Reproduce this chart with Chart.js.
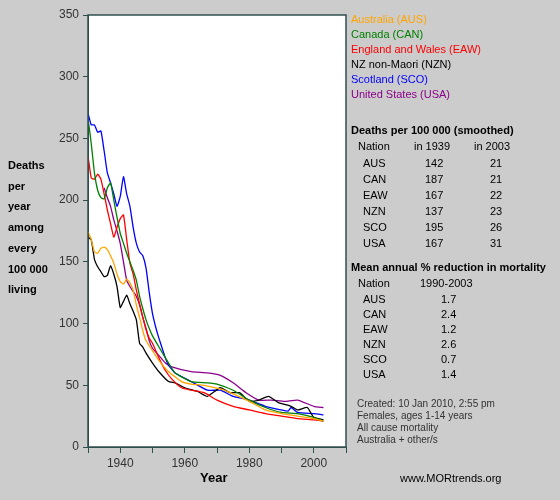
<!DOCTYPE html>
<html><head><meta charset="utf-8">
<script src="https://cdn.jsdelivr.net/npm/chart.js@4"></script>
<style>
body{margin:0;background:#cccccc;font-family:"Liberation Sans",Arial,sans-serif;}
#wrap{position:relative;width:560px;height:500px;}
canvas{position:absolute;left:0;top:0;}
.t{position:absolute;font-size:11px;white-space:nowrap;line-height:13px;}
.b{font-weight:bold;}
.s{font-size:10px;color:#333;}
</style></head><body>
<div id="wrap"><canvas id="c" width="560" height="500"></canvas><div id="txt"></div></div>
<script>
const yearsAUS=[1929,1930,1931,1932,1933,1934,1935,1936,1937,1938,1939,1940,1941,1942,1943,1944,1945,1946,1947,1948,1949,1950,1952,1955,1959,1962,1966,1971,1975,1980,1985,1990,1995,2000,2003];
const valsAUS=[175,174,168,158,157,161,162,160,155,149,140,134,132,136,133,127,115,105,94,86,82,78,70,61,53,51,50,47,43,37,30,27,25,23,21];
const yearsCAN=[1929,1930,1931,1932,1933,1934,1935,1936,1937,1938,1939,1940,1941,1942,1943,1944,1945,1946,1947,1948,1949,1950,1952,1955,1957,1962,1967,1970,1975,1980,1985,1990,1995,2000,2003];
const valsCAN=[268,265,246,222,208,202,201,210,214,200,186,173,165,157,150,143,135,122,112,103,96,90,81,68,60,53,52,51,46,38,32,28,27,24,21];
const yearsEAW=[1929,1930,1931,1932,1933,1934,1935,1936,1937,1938,1939,1940,1941,1942,1943,1944,1945,1946,1947,1948,1949,1950,1952,1954,1956,1959,1962,1966,1970,1975,1980,1985,1990,1995,2000,2003];
const valsEAW=[238,235,218,217,221,217,205,192,181,170,178,185,188,168,149,140,127,116,105,95,88,84,72,62,55,48,46,44,38,33,30,27,25,23,22,21];
const yearsNZN=[1929,1930,1931,1932,1933,1934,1935,1936,1937,1938,1939,1940,1941,1942,1943,1944,1945,1946,1947,1948,1950,1952,1955,1957,1960,1964,1967,1971,1974,1977,1980,1983,1986,1989,1993,1995,1998,2000,2003];
const valsNZN=[172,170,168,152,146,142,138,139,147,140,130,113,118,123,116,110,103,84,81,76,68,61,53,52,48,45,41,48,44,44,37,38,41,36,33,30,32,24,22];
const yearsSCO=[1929,1930,1931,1932,1933,1934,1935,1936,1937,1938,1939,1940,1941,1942,1943,1944,1945,1946,1947,1948,1949,1950,1951,1952,1953,1954,1955,1956,1957,1962,1967,1971,1975,1980,1985,1990,1992,1993,1995,2000,2003];
const valsSCO=[272,270,261,261,255,256,240,222,214,205,195,203,219,205,195,178,165,158,155,145,125,108,97,88,80,72,66,63,60,53,46,46,41,38,33,30,29,32,28,27,26];
const yearsUSA=[1935,1936,1937,1938,1939,1940,1941,1942,1943,1944,1945,1946,1947,1948,1949,1950,1952,1954,1956,1962,1967,1971,1975,1979,1983,1987,1991,1995,2000,2003];
const valsUSA=[210,202,195,184,175,165,150,135,130,126,122,115,105,96,86,80,74,68,65,61,60,58,52,44,38,38,37,38,33,32];
const nations=["AUS","CAN","EAW","NZN","SCO","USA"];
const names=["Australia (AUS)","Canada (CAN)","England and Wales (EAW)","NZ non-Maori (NZN)","Scotland (SCO)","United States (USA)"];
const colors=["#ffa500","#008000","#ff0000","#000000","#0000ff","#8b008b"];
const d1939=[142,187,167,137,195,167];
const d2003=[21,21,22,23,26,31];
const reduction=["1.7","2.4","1.2","2.6","0.7","1.4"];
const xTicks=[1930,1940,1950,1960,1970,1980,1990,2000,2010];
const yTicks=[0,50,100,150,200,250,300,350];

const series=[[yearsAUS,valsAUS],[yearsCAN,valsCAN],[yearsEAW,valsEAW],[yearsNZN,valsNZN],[yearsSCO,valsSCO],[yearsUSA,valsUSA]];
const frame={id:'frame',afterDatasetsDraw(c){const a=c.chartArea,x=c.ctx;x.save();x.strokeStyle='#2f4f4f';x.lineWidth=1.5;x.strokeRect(a.left,a.top,a.right-a.left,a.bottom-a.top);x.restore();},
 beforeDraw(c){const a=c.chartArea,x=c.ctx;x.save();x.fillStyle='#fff';x.fillRect(a.left,a.top,a.right-a.left,a.bottom-a.top);x.restore();}};
new Chart(document.getElementById('c'),{type:'line',
 data:{datasets:series.map((s,i)=>({label:nations[i],data:s[0].map((y,j)=>({x:y,y:s[1][j]})),borderColor:colors[i],borderWidth:1.3,pointRadius:0,tension:0.15,fill:false}))},
 options:{responsive:false,animation:false,layout:{padding:{left:0,right:214,top:15,bottom:0}},
  plugins:{legend:{display:false},tooltip:{enabled:false}},
  scales:{
   x:{type:'linear',min:1930,max:2010,afterFit(s){s.height=53;},afterBuildTicks(s){s.ticks=xTicks.map(v=>({value:v}));},
      grid:{drawOnChartArea:false,tickLength:6,color:'#2f4f4f'},border:{color:'#2f4f4f'},
      ticks:{autoSkip:false,maxRotation:0,color:'#333',font:{family:'Liberation Sans',size:12},callback:v=>(v%20===0&&v>1930&&v<2010)?String(v):''}},
   y:{min:0,max:350,afterFit(s){s.width=88;},afterBuildTicks(s){s.ticks=yTicks.map(v=>({value:v}));},
      grid:{drawOnChartArea:false,tickLength:5,color:'#2f4f4f'},border:{color:'#2f4f4f'},
      ticks:{color:'#333',font:{family:'Liberation Sans',size:12},padding:4}}}},
 plugins:[frame]});

let h='';
const add=(x,y,t,cls,col)=>{h+=`<div class="t ${cls||''}" style="left:${x}px;top:${y}px;${col?'color:'+col:''}">${t}</div>`;};
const yl=["Deaths","per","year","among","every","100 000","living"];
yl.forEach((t,i)=>add(8,159+i*20.7,t,'b'));
h+=`<div class="t b" style="left:200px;top:471px;font-size:13px">Year</div>`;
add(400,472,"www.MORtrends.org");
names.forEach((n,i)=>add(351,13+i*15,n,'',colors[i]));
add(351,124,"Deaths per 100 000 (smoothed)",'b');
add(358,140,"Nation");add(414,140,"in 1939");add(474,140,"in 2003");
nations.forEach((n,i)=>{add(363,157+i*16,n);add(425,157+i*16,d1939[i]);add(490,157+i*16,d2003[i]);});
add(351,261,"Mean annual % reduction in mortality",'b');
add(358,277,"Nation");add(420,277,"1990-2003");
nations.forEach((n,i)=>{add(363,293+i*15,n);add(441,293+i*15,reduction[i]);});
["Created: 10 Jan 2010,  2:55 pm","Females, ages 1-14 years","All cause mortality","Australia + other/s"].forEach((t,i)=>add(357,397+i*12,t,'s'));
document.getElementById('txt').innerHTML=h;
</script></body></html>
